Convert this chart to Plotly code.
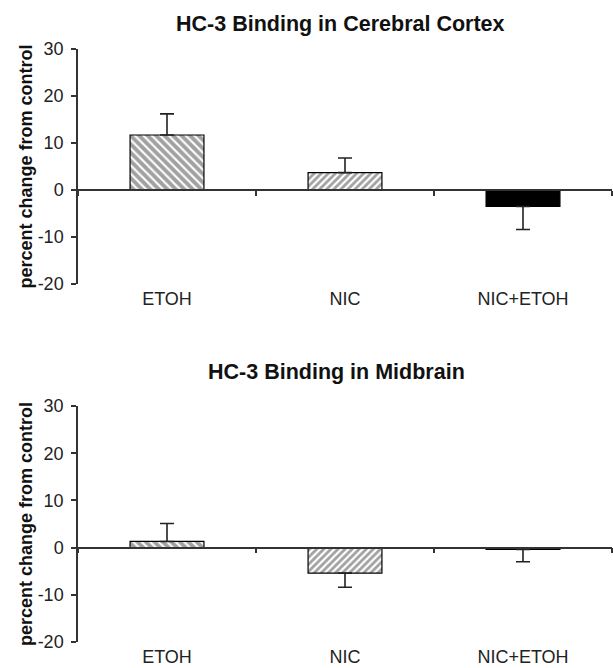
import plotly.graph_objects as go

categories = ["ETOH", "NIC", "NIC+ETOH"]
cortex_values = [11.7, 3.7, -3.5]
cortex_errors = [4.5, 3.1, 4.9]
midbrain_values = [1.3, -5.4, -0.4]
midbrain_errors = [3.8, 3.0, 2.6]
y_ticks = [-20, -10, 0, 10, 20, 30]
y_tick_labels = ["-20", "-10", "0", "10", "20", "30"]
titles = ["HC-3 Binding in Cerebral Cortex", "HC-3 Binding in Midbrain"]
y_title = "percent change from control"

FONT = "Liberation Sans, Arial, Helvetica, sans-serif"
W, H = 613, 668
ML, MR = 78, 1
plot_w = W - ML - MR

# panel pixel extents (top of 30, bottom of -20)
panels = [(49, 284), (406, 642)]
title_px = [(340, 24), (336, 372)]
ymin, ymax = -20, 30

fig = go.Figure()

pattern_shapes = ["\\", "/", ""]
fill_colors = ["white", "white", "black"]
pattern_sizes = [6, 5, 6]
pattern_solidity = [0.65, 0.55, 0.3]

for i, (vals, errs) in enumerate([(cortex_values, cortex_errors), (midbrain_values, midbrain_errors)]):
    sx = "" if i == 0 else str(i + 1)
    up = [e if v >= 0 else 0 for v, e in zip(vals, errs)]
    down = [e if v < 0 else 0 for v, e in zip(vals, errs)]
    fig.add_trace(go.Bar(
        x=categories, y=vals, xaxis="x" + sx, yaxis="y" + sx,
        marker=dict(
            color=fill_colors,
            line=dict(color="black", width=1.2),
            pattern=dict(shape=pattern_shapes, fgcolor="black", bgcolor="white",
                         size=pattern_sizes, solidity=pattern_solidity),
        ),
        error_y=dict(type="data", symmetric=False, array=up, arrayminus=down,
                     color="#222222", thickness=1.6, width=7),
        showlegend=False,
    ))
    # invisible helper trace so the zero-line axis (with boundary ticks) is drawn
    fig.add_trace(go.Scatter(
        x=categories, y=[0] * len(categories), xaxis="x" + str(i + 3), yaxis="y" + sx,
        mode="none", hoverinfo="skip", showlegend=False,
    ))

layout = dict(
    width=W, height=H,
    margin=dict(l=ML, r=MR, t=0, b=0, autoexpand=False),
    paper_bgcolor="white", plot_bgcolor="white",
    bargap=0.585,
    font=dict(family=FONT, color="#222222"),
    annotations=[],
)

for i, (ptop, pbot) in enumerate(panels):
    dom = [1 - pbot / H, 1 - ptop / H]
    zero_pos = dom[0] + (0 - ymin) / (ymax - ymin) * (dom[1] - dom[0])
    sx = "" if i == 0 else str(i + 1)
    layout["yaxis" + sx] = dict(
        domain=dom, range=[ymin, ymax], anchor="x" + sx, automargin=False,
        tickvals=y_ticks, ticktext=y_tick_labels,
        ticks="outside", ticklen=5, tickwidth=1.5, tickcolor="#333333",
        showline=True, linecolor="#333333", linewidth=1.5,
        showgrid=False, zeroline=False,
        tickfont=dict(size=18, family=FONT, color="#222222"),
        ticklabelstandoff=4,
        title=dict(text="<b>" + y_title + "</b>", font=dict(size=18, family=FONT, color="#111111"), standoff=0),
    )
    layout["xaxis" + sx] = dict(
        domain=[0, 1], anchor="y" + sx, type="category", range=[-0.5, 2.5], automargin=False,
        showline=False, ticks="", showgrid=False, zeroline=False,
        tickfont=dict(size=18, family=FONT, color="#222222"),
        ticklabelstandoff=2,
    )
    # axis line through zero with ticks between categories
    layout["xaxis" + str(i + 3)] = dict(
        domain=[0, 1], overlaying="x" + sx, anchor="free", position=zero_pos,
        type="category", range=[-0.5, 2.5], tickson="boundaries", automargin=False,
        showticklabels=False, ticks="outside", ticklen=5, tickwidth=2, tickcolor="#333333",
        showline=True, linecolor="#333333", linewidth=1.5,
        showgrid=False, zeroline=False,
    )
    tx, ty = title_px[i]
    layout["annotations"].append(dict(
        text="<b>" + titles[i] + "</b>", xref="paper", yref="paper",
        x=(tx - ML) / plot_w, y=1 - ty / H, xanchor="center", yanchor="middle",
        showarrow=False, font=dict(size=21.5, family=FONT, color="#111111"),
    ))

fig.update_layout(**layout)
fig.write_html("out.html", config={"displayModeBar": False},
               post_script="document.body.style.margin='0px';")
